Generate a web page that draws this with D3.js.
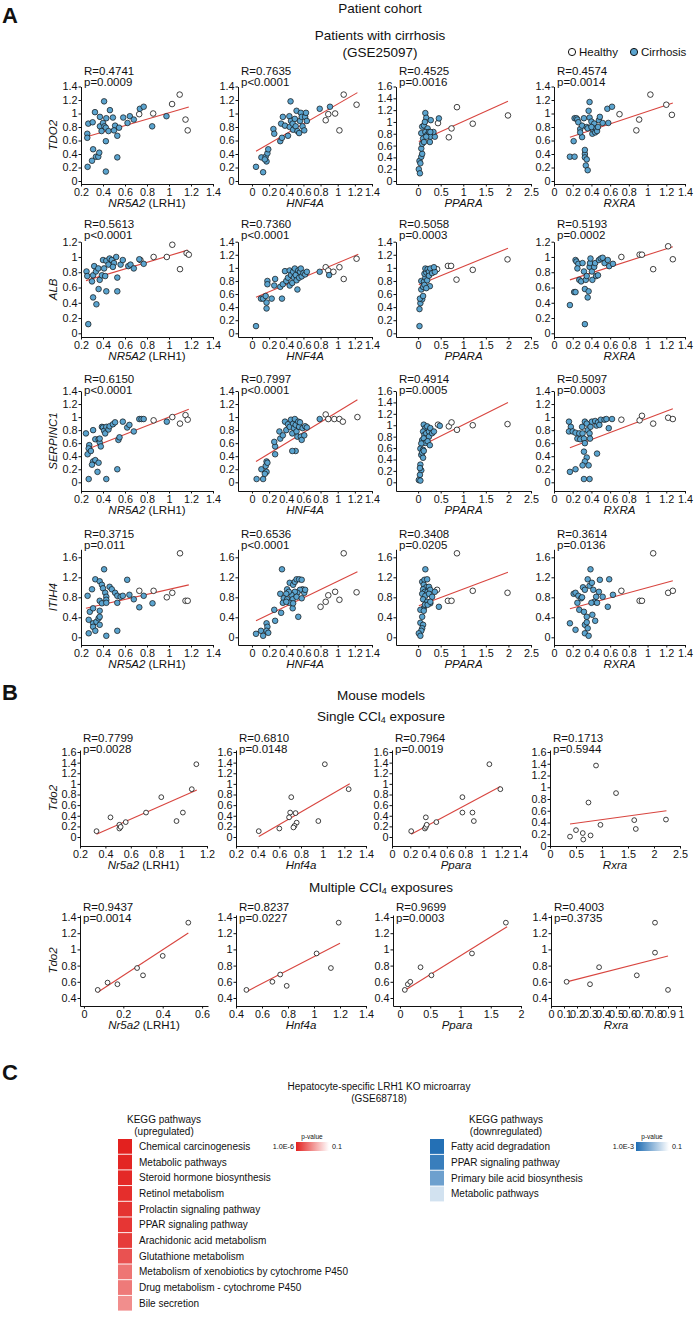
<!DOCTYPE html>
<html>
<head>
<meta charset="utf-8">
<script src="https://cdn.jsdelivr.net/npm/d3@7"></script>
<style>
  body { margin: 0; background: #fff; }
  svg text { font-family: 'Liberation Sans', Arial, sans-serif; fill: #111; }
</style>
</head>
<body>
<svg id="fig" width="696" height="1318"></svg>
<script>
// ---------------- panel A data (GSE25097) ----------------
const aXGenes = ["NR5A2", "HNF4A", "PPARA", "RXRA"];
const aYGenes = ["TDO2", "ALB", "SERPINC1", "ITIH4"];

const aStats = [
  [["R=0.4741", "p=0.0009"], ["R=0.7635", "p<0.0001"], ["R=0.4525", "p=0.0016"], ["R=0.4574", "p=0.0014"]],
  [["R=0.5613", "p<0.0001"], ["R=0.7360", "p<0.0001"], ["R=0.5058", "p=0.0003"], ["R=0.5193", "p=0.0002"]],
  [["R=0.6150", "p<0.0001"], ["R=0.7997", "p<0.0001"], ["R=0.4914", "p=0.0005"], ["R=0.5097", "p=0.0003"]],
  [["R=0.3715", "p=0.011"], ["R=0.6536", "p<0.0001"], ["R=0.3408", "p=0.0205"], ["R=0.3614", "p=0.0136"]]
];

const aYMax = [[1.4, 1.4, 1.6, 1.4], [1.2, 1.4, 1.4, 1.2], [1.4, 1.4, 1.6, 1.4], [1.6, 1.6, 1.6, 1.6]];

// x axis extents and ticks per column
const aXDomain = [[0.2, 1.4], [-0.163, 1.4], [-0.49, 2.5], [0, 1.4]];
const ticks02to14 = [0.2, 0.4, 0.6, 0.8, 1, 1.2, 1.4];
const ticks0to14 = [0, 0.2, 0.4, 0.6, 0.8, 1, 1.2, 1.4];
const ticks0to25 = [0, 0.5, 1, 1.5, 2, 2.5];
const aXTicks = [ticks02to14, ticks0to14, ticks0to25, ticks0to14];

// fits: slope, intercept, x from, x to
const aFits = [
  [[0.475, 0.536, 0.236, 1.18], [0.735, 0.405, 0.047, 1.23], [0.344, 0.665, 0.015, 1.99], [0.46, 0.57, 0.17, 1.27]],
  [[0.432, 0.584, 0.245, 1.17], [0.55, 0.525, 0.047, 1.24], [0.284, 0.736, 0.015, 1.99], [0.395, 0.633, 0.17, 1.27]],
  [[0.663, 0.338, 0.245, 1.18], [0.80, 0.282, 0.047, 1.23], [0.395, 0.614, 0.015, 1.99], [0.545, 0.437, 0.17, 1.27]],
  [[0.50, 0.458, 0.245, 1.18], [0.83, 0.291, 0.047, 1.23], [0.34, 0.625, 0.015, 1.99], [0.51, 0.483, 0.17, 1.27]]
];

// TDO2 row
const tdo2Cirr = [
  [[0.26,0.21],[0.257,0.70],[0.257,0.64],[0.266,0.85],[0.306,0.87],[0.327,1.02],[0.31,0.47],[0.30,0.30],[0.336,0.36],[0.357,0.36],[0.366,0.42],[0.372,0.95],[0.372,0.81],[0.387,0.74],[0.40,0.86],[0.41,1.18],[0.413,0.81],[0.426,0.79],[0.43,0.93],[0.426,0.59],[0.426,0.14],[0.45,0.74],[0.463,1.05],[0.49,0.94],[0.51,0.82],[0.50,0.75],[0.53,0.67],[0.53,0.35],[0.546,0.79],[0.584,0.94],[0.623,0.86],[0.644,0.96],[0.68,0.91],[0.735,1.07],[0.77,1.10],[0.847,0.81],[0.977,0.96]],
  [[0.047,0.21],[0.13,0.13],[0.11,0.35],[0.16,0.36],[0.17,0.29],[0.18,0.41],[0.19,0.47],[0.15,0.32],[0.25,0.77],[0.26,0.70],[0.33,0.59],[0.35,0.64],[0.34,0.85],[0.36,0.95],[0.385,0.82],[0.42,0.67],[0.44,0.80],[0.45,1.18],[0.436,0.96],[0.455,0.89],[0.475,0.85],[0.48,0.76],[0.50,0.92],[0.51,0.81],[0.52,1.04],[0.53,0.74],[0.55,0.71],[0.56,0.89],[0.57,1.01],[0.58,0.95],[0.59,0.81],[0.61,0.75],[0.62,0.95],[0.64,0.89],[0.63,1.01],[0.79,1.07],[0.91,1.10]],
  [[0.015,0.20],[0.04,0.13],[0.03,0.34],[0.05,0.30],[0.07,0.41],[0.09,0.46],[0.07,0.55],[0.09,0.63],[0.11,0.72],[0.07,0.81],[0.09,0.92],[0.13,0.94],[0.16,1.15],[0.18,1.07],[0.15,1.00],[0.21,0.89],[0.16,0.83],[0.20,0.78],[0.24,0.83],[0.27,0.75],[0.26,0.66],[0.28,1.03],[0.37,0.75],[0.34,0.83],[0.46,1.06],[0.13,0.66],[0.18,0.75],[0.27,0.83]],
  [[0.17,0.36],[0.22,0.36],[0.21,0.59],[0.22,0.93],[0.24,0.93],[0.25,0.91],[0.26,0.87],[0.28,0.77],[0.30,0.65],[0.30,0.82],[0.32,0.93],[0.33,0.40],[0.33,0.35],[0.33,0.46],[0.34,0.23],[0.35,0.32],[0.36,0.16],[0.35,0.80],[0.36,0.78],[0.37,1.04],[0.38,0.94],[0.38,1.17],[0.40,0.88],[0.41,0.70],[0.42,0.76],[0.43,0.85],[0.44,0.72],[0.45,0.78],[0.46,0.74],[0.47,0.80],[0.48,0.90],[0.49,0.95],[0.52,0.86],[0.57,1.07],[0.62,1.10],[0.58,0.86],[0.40,0.80],[0.28,0.72]]
];
const tdo2Healthy = [
  [[0.729,0.99],[0.856,1.00],[1.028,1.14],[1.097,1.28],[1.15,0.91],[1.17,0.75]],
  [[0.86,0.90],[0.89,0.99],[0.97,1.00],[1.02,0.75],[1.07,1.28],[1.22,1.13]],
  [[0.44,0.98],[0.68,0.74],[0.74,0.89],[0.86,1.25],[1.21,0.97],[1.99,1.11]],
  [[0.70,0.99],[0.88,0.75],[0.91,0.91],[1.03,1.28],[1.20,1.13],[1.26,0.98]]
];

// ALB row
const albCirr = [
  [[0.266,0.12],[0.25,0.81],[0.257,0.75],[0.30,0.68],[0.31,0.76],[0.31,0.47],[0.34,0.38],[0.32,0.88],[0.336,0.81],[0.36,0.58],[0.357,0.85],[0.37,0.70],[0.39,0.76],[0.40,0.96],[0.41,0.85],[0.43,0.55],[0.42,0.75],[0.43,0.95],[0.45,0.90],[0.46,0.98],[0.48,0.96],[0.50,0.92],[0.52,1.00],[0.53,0.73],[0.53,0.55],[0.56,0.90],[0.58,0.96],[0.63,0.88],[0.65,0.90],[0.68,0.85],[0.73,0.97],[0.77,0.91],[0.49,0.87]],
  [[0.047,0.11],[0.105,0.53],[0.13,0.53],[0.16,0.57],[0.17,0.47],[0.17,0.38],[0.18,0.80],[0.18,0.75],[0.23,0.53],[0.26,0.73],[0.27,0.83],[0.33,0.71],[0.35,0.53],[0.36,0.75],[0.385,0.95],[0.40,0.80],[0.42,0.85],[0.44,0.73],[0.44,0.96],[0.455,0.89],[0.47,0.77],[0.48,0.94],[0.49,0.85],[0.50,0.99],[0.51,0.89],[0.52,0.81],[0.53,0.67],[0.54,0.96],[0.55,0.85],[0.56,0.94],[0.57,0.99],[0.58,0.87],[0.60,0.92],[0.62,0.90],[0.64,0.94],[0.79,0.94],[0.90,0.89]],
  [[0.03,0.11],[0.03,0.37],[0.05,0.46],[0.09,0.52],[0.04,0.53],[0.11,0.57],[0.07,0.67],[0.11,0.71],[0.07,0.80],[0.13,0.79],[0.14,0.74],[0.16,0.85],[0.14,0.91],[0.18,0.93],[0.16,0.99],[0.21,0.98],[0.24,0.94],[0.26,0.72],[0.27,0.99],[0.20,0.81],[0.24,0.88],[0.31,0.92],[0.37,0.94],[0.35,1.01],[0.18,0.69]],
  [[0.17,0.37],[0.215,0.54],[0.23,0.54],[0.23,0.96],[0.24,0.94],[0.26,0.91],[0.25,0.85],[0.27,0.70],[0.29,0.68],[0.305,0.92],[0.32,0.81],[0.33,0.58],[0.34,0.70],[0.35,0.75],[0.36,0.47],[0.37,0.55],[0.33,0.12],[0.38,0.87],[0.385,0.92],[0.39,0.98],[0.405,0.81],[0.41,0.70],[0.43,0.87],[0.44,0.92],[0.45,0.75],[0.47,0.76],[0.48,0.96],[0.50,0.98],[0.52,0.99],[0.54,0.92],[0.575,0.96],[0.59,0.88],[0.63,0.91]]
];
const albHealthy = [
  [[0.74,0.96],[0.86,1.00],[0.98,1.00],[1.03,1.16],[1.10,0.84],[1.16,1.05],[1.18,1.03]],
  [[0.86,1.01],[0.89,0.96],[0.95,0.94],[1.02,1.01],[1.07,0.83],[1.22,1.14]],
  [[0.42,0.98],[0.66,1.03],[0.73,1.03],[0.85,0.82],[1.21,0.97],[1.98,1.13]],
  [[0.72,1.00],[0.915,1.03],[0.94,1.03],[1.06,0.84],[1.22,1.14],[1.27,0.97]]
];

// SERPINC1 row
const serpCirr = [
  [[0.245,0.75],[0.275,0.57],[0.27,0.52],[0.31,0.80],[0.33,0.66],[0.36,0.66],[0.37,0.61],[0.38,0.55],[0.37,0.67],[0.39,0.85],[0.40,0.84],[0.41,0.79],[0.42,0.75],[0.43,0.85],[0.45,0.81],[0.46,0.86],[0.49,0.89],[0.51,0.92],[0.54,0.65],[0.55,0.69],[0.58,0.93],[0.62,0.84],[0.64,0.88],[0.68,0.78],[0.73,0.97],[0.75,0.97],[0.77,0.97],[0.98,0.93],[0.26,0.43],[0.29,0.48],[0.31,0.32],[0.33,0.34],[0.30,0.27],[0.36,0.30],[0.35,0.16],[0.27,0.05],[0.43,0.05],[0.53,0.20]],
  [[0.27,0.55],[0.32,0.78],[0.33,0.67],[0.36,0.72],[0.385,0.93],[0.40,0.80],[0.42,0.89],[0.44,0.85],[0.455,0.96],[0.47,0.75],[0.48,0.90],[0.49,0.83],[0.50,0.97],[0.51,0.88],[0.52,0.78],[0.53,0.70],[0.54,0.93],[0.55,0.85],[0.56,0.92],[0.57,0.70],[0.58,0.65],[0.59,0.83],[0.61,0.72],[0.62,0.86],[0.64,0.84],[0.51,0.48],[0.79,0.97],[0.26,0.62],[0.054,0.05],[0.11,0.20],[0.13,0.05],[0.16,0.25],[0.17,0.32],[0.18,0.30],[0.17,0.16],[0.15,0.13],[0.27,0.43],[0.47,0.48]],
  [[0.125,1.01],[0.16,0.95],[0.20,0.98],[0.11,0.89],[0.14,0.83],[0.18,0.86],[0.24,0.89],[0.27,0.95],[0.24,0.80],[0.31,0.86],[0.35,0.89],[0.48,0.99],[0.09,0.74],[0.125,0.77],[0.16,0.69],[0.21,0.72],[0.26,0.65],[0.07,0.68],[0.05,0.59],[0.11,0.57],[0.07,0.48],[0.09,0.52],[0.11,0.43],[0.05,0.31],[0.07,0.21],[0.04,0.13],[0.015,0.04],[0.05,0.03],[0.125,0.55],[0.04,0.25]],
  [[0.16,0.93],[0.18,0.85],[0.16,0.78],[0.20,0.78],[0.23,0.76],[0.25,0.67],[0.27,0.75],[0.28,0.66],[0.30,0.85],[0.305,0.75],[0.32,0.67],[0.33,0.93],[0.35,0.90],[0.36,0.80],[0.38,0.75],[0.385,0.67],[0.39,0.85],[0.405,0.93],[0.44,0.94],[0.455,0.87],[0.47,0.92],[0.485,0.88],[0.50,0.96],[0.54,0.96],[0.56,0.97],[0.585,0.83],[0.62,0.97],[0.32,0.47],[0.35,0.38],[0.33,0.32],[0.37,0.26],[0.305,0.26],[0.17,0.16],[0.23,0.20],[0.32,0.05],[0.38,0.05],[0.46,0.44],[0.33,0.60]]
];
const serpHealthy = [
  [[0.86,0.95],[1.03,1.00],[1.10,0.90],[1.15,1.03],[1.17,0.96]],
  [[0.86,1.04],[0.89,0.97],[0.96,0.97],[1.02,0.97],[1.06,0.93],[1.23,1.00]],
  [[0.44,1.01],[0.68,0.98],[0.74,1.05],[0.86,0.92],[1.21,1.00],[1.98,1.02]],
  [[0.72,0.96],[0.915,0.95],[0.94,1.02],[1.06,0.90],[1.22,0.99],[1.27,0.97]]
];

// ITIH4 row
const itihCirr = [
  [[0.26,0.83],[0.30,0.96],[0.33,1.16],[0.37,1.12],[0.41,1.36],[0.39,1.05],[0.40,0.98],[0.42,0.89],[0.43,0.81],[0.43,0.75],[0.46,1.01],[0.48,0.96],[0.51,0.89],[0.53,0.83],[0.56,0.81],[0.58,0.83],[0.62,1.15],[0.64,0.85],[0.68,0.76],[0.77,0.83],[0.37,0.73],[0.39,0.68],[0.27,0.35],[0.28,0.51],[0.31,0.58],[0.31,0.28],[0.34,0.31],[0.36,0.38],[0.31,0.21],[0.33,0.13],[0.27,0.08],[0.37,0.25],[0.37,0.53],[0.37,0.41],[0.43,0.03],[0.53,0.13],[0.43,0.69],[0.53,0.69],[0.73,0.60],[0.85,0.68]],
  [[0.35,1.36],[0.41,0.96],[0.44,1.09],[0.48,1.05],[0.50,1.11],[0.52,1.16],[0.55,1.16],[0.58,1.15],[0.59,0.96],[0.61,0.89],[0.56,0.95],[0.53,0.89],[0.50,0.91],[0.46,0.85],[0.43,0.91],[0.40,0.87],[0.33,0.87],[0.37,0.78],[0.41,0.76],[0.475,0.76],[0.52,0.81],[0.58,0.78],[0.36,0.69],[0.44,0.69],[0.62,0.95],[0.047,0.07],[0.105,0.13],[0.13,0.03],[0.17,0.28],[0.18,0.21],[0.17,0.13],[0.19,0.09],[0.26,0.55],[0.27,0.33],[0.34,0.49],[0.475,0.58],[0.54,0.41],[0.48,0.68],[0.40,0.71]],
  [[0.16,1.36],[0.09,1.11],[0.14,1.15],[0.20,1.16],[0.125,1.05],[0.18,1.00],[0.24,1.01],[0.11,0.96],[0.15,0.91],[0.21,0.91],[0.27,0.95],[0.09,0.87],[0.16,0.83],[0.24,0.87],[0.31,0.81],[0.11,0.76],[0.20,0.71],[0.27,0.68],[0.46,0.61],[0.125,0.58],[0.37,0.91],[0.05,0.55],[0.125,0.53],[0.09,0.41],[0.05,0.29],[0.11,0.25],[0.09,0.18],[0.07,0.13],[0.015,0.08],[0.05,0.03],[0.15,0.65],[0.21,0.65],[0.27,0.71]],
  [[0.21,0.87],[0.23,0.89],[0.26,0.83],[0.29,0.78],[0.31,1.00],[0.33,0.95],[0.36,1.16],[0.38,1.03],[0.39,1.36],[0.405,1.09],[0.42,0.95],[0.45,0.81],[0.48,0.91],[0.49,1.15],[0.52,0.81],[0.43,0.71],[0.40,0.69],[0.46,0.69],[0.575,0.61],[0.59,1.16],[0.63,0.85],[0.25,0.69],[0.17,0.28],[0.23,0.15],[0.27,0.55],[0.32,0.51],[0.35,0.41],[0.33,0.25],[0.35,0.30],[0.36,0.18],[0.33,0.08],[0.37,0.03],[0.44,0.33],[0.30,0.80],[0.41,0.45]]
];
const itihHealthy = [
  [[0.73,0.93],[0.86,0.93],[0.98,0.80],[1.03,0.89],[1.10,1.68],[1.15,0.73],[1.17,0.73]],
  [[0.80,0.61],[0.86,0.71],[0.89,0.84],[0.97,0.91],[1.02,0.75],[1.07,1.68],[1.22,0.90]],
  [[0.42,0.95],[0.66,0.73],[0.74,0.73],[0.86,1.68],[1.21,0.93],[1.98,0.89]],
  [[0.72,0.93],[0.915,0.73],[0.94,0.73],[1.06,1.68],[1.22,0.89],[1.27,0.93]]
];

const aCirr = [tdo2Cirr, albCirr, serpCirr, itihCirr];
const aHealthy = [tdo2Healthy, albHealthy, serpHealthy, itihHealthy];

// ---------------- panel B data (mouse CCl4) ----------------
const bXGenes = ["Nr5a2", "Hnf4a", "Ppara", "Rxra"];
const bStats = [
  [["R=0.7799", "p=0.0028"], ["R=0.6810", "p=0.0148"], ["R=0.7964", "p=0.0019"], ["R=0.1713", "p=0.5944"]],
  [["R=0.9437", "p=0.0014"], ["R=0.8237", "p=0.0227"], ["R=0.9699", "p=0.0003"], ["R=0.4003", "p=0.3735"]]
];
const bXDomain = [
  [[0.2, 1.2], [0.2, 1.4], [0, 1.4], [0, 2.5]],
  [[-0.02, 0.63], [0.4, 1.4], [-0.115, 2.0], [0, 1]]
];
const bXTicks = [
  [[0.2, 0.4, 0.6, 0.8, 1, 1.2], ticks02to14, ticks0to14, ticks0to25],
  [[0, 0.2, 0.4, 0.6], [0.4, 0.6, 0.8, 1, 1.2, 1.4], [0, 0.5, 1, 1.5, 2], [0, 0.1, 0.2, 0.3, 0.4, 0.5, 0.6, 0.7, 0.8, 0.9, 1]]
];
const bYTicks = [[0, 0.2, 0.4, 0.6, 0.8, 1, 1.2, 1.4, 1.6], [0.4, 0.6, 0.8, 1, 1.2, 1.4]];
const bFits = [
  [[1.057, -0.299, 0.33, 1.12], [1.18, -0.474, 0.41, 1.25], [0.923, -0.144, 0.21, 1.185], [0.121, 0.328, 0.385, 2.24]],
  [[1.59, 0.36, 0.07, 0.53], [0.83, 0.08, 0.48, 1.2], [0.465, 0.457, 0.05, 1.77], [0.41, 0.55, 0.12, 0.9]]
];
const singlePts = [
  [[1.116,1.37],[1.08,0.90],[0.84,0.75],[0.33,0.11],[0.44,0.37],[0.51,0.23],[0.51,0.16],[0.52,0.19],[0.56,0.28],[0.72,0.46],[0.96,0.30],[1.01,0.46]],
  [[1.02,1.37],[0.71,0.75],[1.24,0.90],[0.41,0.11],[0.60,0.16],[0.70,0.46],[0.69,0.37],[0.75,0.45],[0.76,0.27],[0.74,0.21],[0.73,0.18],[0.96,0.30]],
  [[1.065,1.37],[1.185,0.90],[0.77,0.75],[0.21,0.11],[0.37,0.37],[0.36,0.16],[0.37,0.19],[0.38,0.23],[0.485,0.28],[0.77,0.46],[0.88,0.46],[0.895,0.30]],
  [[0.885,1.37],[1.27,0.90],[0.74,0.74],[0.385,0.16],[0.50,0.27],[0.63,0.22],[0.64,0.11],[0.78,0.18],[0.97,0.36],[1.62,0.44],[1.65,0.29],[2.23,0.45]]
];
const multiPts = [
  [[0.07,0.50],[0.12,0.59],[0.17,0.57],[0.27,0.77],[0.30,0.68],[0.40,0.92],[0.53,1.33]],
  [[0.48,0.50],[0.68,0.60],[0.74,0.69],[0.79,0.55],[1.02,0.95],[1.13,0.77],[1.19,1.33]],
  [[0.08,0.50],[0.13,0.57],[0.17,0.60],[0.34,0.78],[0.52,0.68],[1.19,0.95],[1.75,1.33]],
  [[0.12,0.60],[0.30,0.57],[0.37,0.78],[0.66,0.68],[0.80,1.33],[0.80,0.96],[0.90,0.50]]
];
const bPts = [singlePts, multiPts];

// ---------------- panel C data (GSE68718 KEGG) ----------------
const upPathways = ["Chemical carcinogenesis", "Metabolic pathways", "Steroid hormone biosynthesis", "Retinol metabolism",
  "Prolactin signaling pathway", "PPAR signaling pathway", "Arachidonic acid metabolism", "Glutathione metabolism",
  "Metabolism of xenobiotics by cytochrome P450", "Drug metabolism - cytochrome P450", "Bile secretion"];
const upP = [1.0e-6, 1.2e-6, 1.5e-6, 2e-6, 2.5e-6, 3e-6, 4e-6, 1.3e-5, 8e-5, 1e-4, 2.8e-4];
const downPathways = ["Fatty acid degradation", "PPAR signaling pathway", "Primary bile acid biosynthesis", "Metabolic pathways"];
const downP = [1.1e-3, 1.7e-3, 5e-3, 4e-2];

// ---------------- drawing ----------------
const svg = d3.select("#fig");
const fmt = d3.format("~g");
const RED = "#d8453f";
const BLUE = "#5ba4cf";

function centerText(x, y, txt, size, opts = {}) {
  const t = svg.append("text").attr("x", x).attr("y", y).attr("dy", "0.35em")
    .attr("text-anchor", opts.anchor || "middle").attr("font-size", size).text(txt);
  if (opts.weight) t.attr("font-weight", opts.weight);
  if (opts.italic) t.attr("font-style", "italic");
  return t;
}

function scatter(c) {
  const g = svg.append("g");
  const x = d3.scaleLinear().domain(c.xDomain).range([c.left, c.left + c.w]);
  const yBase = d3.scaleLinear().domain(c.yDomain).range(c.yRange);
  const axisTop = c.yRange[1] - (c.topExt || 0);
  const y = d3.scaleLinear()
    .domain([yBase.invert(c.axisY), yBase.invert(axisTop)])
    .range([c.axisY, axisTop]);

  const xa = g.append("g").attr("transform", `translate(0,${c.axisY})`)
    .call(d3.axisBottom(x).tickValues(c.xTicks).tickFormat(fmt).tickSize(2.5).tickSizeOuter(0).tickPadding(1.5));
  const ya = g.append("g").attr("transform", `translate(${c.left},0)`)
    .call(d3.axisLeft(y).tickValues(c.yTicks).tickFormat(fmt).tickSize(2.5).tickSizeOuter(0).tickPadding(1));
  [xa, ya].forEach(a => {
    a.attr("font-family", null).attr("font-size", 10.8);
    a.selectAll("path,line").attr("stroke", "#111").attr("stroke-width", 1);
  });

  const [m, b, x0, x1] = c.fit;
  g.append("line")
    .attr("x1", x(x0)).attr("y1", y(m * x0 + b))
    .attr("x2", x(x1)).attr("y2", y(m * x1 + b))
    .attr("stroke", RED).attr("stroke-width", 1.1);

  g.selectAll("circle.h").data(c.healthy).join("circle").attr("class", "h")
    .attr("cx", d => x(d[0])).attr("cy", d => y(d[1])).attr("r", c.r)
    .attr("fill", "#fff").attr("stroke", "#111").attr("stroke-width", 0.8);
  g.selectAll("circle.c").data(c.cirr || []).join("circle").attr("class", "c")
    .attr("cx", d => x(d[0])).attr("cy", d => y(d[1])).attr("r", c.r)
    .attr("fill", BLUE).attr("stroke", "#111").attr("stroke-width", 0.7);

  g.append("text").attr("x", c.left + 3).attr("y", c.statY).attr("dy", "0.35em")
    .attr("font-size", 11.5).text(c.stats[0]);
  g.append("text").attr("x", c.left + 3).attr("y", c.statY + 11).attr("dy", "0.35em")
    .attr("font-size", 11.5).text(c.stats[1]);

  const xt = g.append("text").attr("x", c.left + c.w / 2).attr("y", c.axisY + 19).attr("dy", "0.35em")
    .attr("text-anchor", "middle").attr("font-size", 11.5);
  xt.append("tspan").attr("font-style", "italic").text(c.xLabel);
  if (c.xSuffix) xt.append("tspan").text(c.xSuffix);

  if (c.yLabel) {
    const cy = (c.axisY + axisTop) / 2;
    g.append("text").attr("transform", `translate(53,${cy}) rotate(-90)`).attr("dy", "0.35em")
      .attr("text-anchor", "middle").attr("font-size", 11.5).attr("font-style", "italic").text(c.yLabel);
  }
}

// panel letters and titles
centerText(2, 15, "A", 22, { anchor: "start", weight: "bold" });
centerText(380, 8, "Patient cohort", 13.5);
centerText(380, 35, "Patients with cirrhosis", 13.5);
centerText(380, 52, "(GSE25097)", 13.5);

// legend
svg.append("circle").attr("cx", 572).attr("cy", 52).attr("r", 3.6).attr("fill", "#fff").attr("stroke", "#111");
centerText(579, 52, "Healthy", 11.5, { anchor: "start" });
svg.append("circle").attr("cx", 634).attr("cy", 52).attr("r", 3.6).attr("fill", BLUE).attr("stroke", "#111");
centerText(641, 52, "Cirrhosis", 11.5, { anchor: "start" });

// panel A grid
const aLeft = [81, 238, 396, 554];
const aW = [132, 134, 135, 131];
const aZeroY = [181, 333.3, 482.3, 637.3];
const aTopY = [86.5, 241.7, 391, 557.3];
const aAxisY = [184, 337, 491, 645];
const aStatY = [71, 224, 379, 534];
const aTopExt = [0, 0, 0, 8];

aYGenes.forEach((yg, r) => {
  aXGenes.forEach((xg, k) => {
    const yMax = aYMax[r][k];
    const step = r === 3 ? 0.4 : 0.2;
    const yTicks = d3.range(0, Math.round(yMax / step) + 1).map(i => +(i * step).toFixed(1));
    scatter({
      left: aLeft[k], w: aW[k], xDomain: aXDomain[k], xTicks: aXTicks[k],
      yDomain: [0, yMax], yRange: [aZeroY[r], aTopY[r]], axisY: aAxisY[r], topExt: aTopExt[r],
      yTicks, fit: aFits[r][k], cirr: aCirr[r][k], healthy: aHealthy[r][k], r: 2.8,
      stats: aStats[r][k], statY: aStatY[r],
      xLabel: xg, xSuffix: k === 0 ? " (LRH1)" : null, yLabel: k === 0 ? yg : null
    });
  });
});

// panel B
centerText(2, 692, "B", 22, { anchor: "start", weight: "bold" });
centerText(381, 695, "Mouse models", 13.5);
function cclTitle(y, pre, post) {
  const t = svg.append("text").attr("x", 381).attr("y", y).attr("dy", "0.35em")
    .attr("text-anchor", "middle").attr("font-size", 13.5);
  t.append("tspan").text(pre);
  t.append("tspan").attr("font-size", 9).attr("dy", 2).text("4");
  t.append("tspan").attr("dy", -2).text(post);
}
cclTitle(716, "Single CCl", " exposure");
cclTitle(887, "Multiple CCl", " exposures");

const bLeft = [[80, 236, 392, 550], [80, 236, 393, 551]];
const bW = [[127, 130, 128, 130], [128, 130, 128, 130]];
const bRows = [
  { yDomain: [0, 1.6], yRange: [837, 752], axisY: 846, statY: 738 },
  { yDomain: [0.4, 1.4], yRange: [998, 917], axisY: 1006, statY: 907 }
];

bRows.forEach((row, r) => {
  bXGenes.forEach((xg, k) => {
    const yRange = (r === 0 && k === 3) ? [846, 752] : row.yRange;
    scatter({
      left: bLeft[r][k], w: bW[r][k], xDomain: bXDomain[r][k], xTicks: bXTicks[r][k],
      yDomain: row.yDomain, yRange, axisY: row.axisY, topExt: 2,
      yTicks: bYTicks[r], fit: bFits[r][k], healthy: bPts[r][k], cirr: [], r: 2.4,
      stats: bStats[r][k], statY: row.statY,
      xLabel: xg, xSuffix: k === 0 ? " (LRH1)" : null, yLabel: k === 0 ? "Tdo2" : null
    });
  });
});

// panel C
centerText(2, 1072, "C", 22, { anchor: "start", weight: "bold" });
centerText(379, 1086, "Hepatocyte-specific LRH1 KO microarray", 10);
centerText(379, 1098, "(GSE68718)", 10);

function keggBlock(cfg) {
  const band = d3.scaleBand().domain(cfg.names)
    .range([cfg.top, cfg.top + cfg.names.length * cfg.pitch]).paddingInner(0.06);
  const col = d3.scaleLog().domain(cfg.pRange).range([cfg.color, "#ffffff"]).interpolate(d3.interpolateRgb).clamp(true);
  centerText(cfg.headX, cfg.top - 20, "KEGG pathways", 10);
  centerText(cfg.headX, cfg.top - 8, cfg.sub, 10);
  svg.selectAll(null).data(cfg.names).join("rect")
    .attr("x", cfg.boxX).attr("y", d => band(d)).attr("width", 14).attr("height", band.bandwidth())
    .attr("fill", (d, i) => col(cfg.p[i]));
  svg.selectAll(null).data(cfg.names).join("text")
    .attr("x", cfg.boxX + 21).attr("y", d => band(d) + band.bandwidth() / 2).attr("dy", "0.35em")
    .attr("font-size", 10).text(d => d);

  // gradient legend
  const gid = "grad" + cfg.sub.replace(/\W/g, "");
  const grad = svg.append("defs").append("linearGradient").attr("id", gid);
  grad.append("stop").attr("offset", "0%").attr("stop-color", cfg.color);
  grad.append("stop").attr("offset", "100%").attr("stop-color", "#fff");
  svg.append("rect").attr("x", cfg.legX).attr("y", cfg.top + 3).attr("width", 33).attr("height", 9)
    .attr("fill", `url(#${gid})`);
  centerText(cfg.legX + 16, cfg.top - 2, "p-value", 6.5);
  centerText(cfg.legX - 2, cfg.top + 7.5, cfg.pLabel, 7.2, { anchor: "end" });
  centerText(cfg.legX + 36, cfg.top + 7.5, "0.1", 7.2, { anchor: "start" });
}

keggBlock({ names: upPathways, p: upP, pRange: [1e-6, 0.1], color: "#e3211f", top: 1139, pitch: 15.6,
  boxX: 118, headX: 164, sub: "(upregulated)", legX: 296, pLabel: "1.0E-6" });
keggBlock({ names: downPathways, p: downP, pRange: [1e-3, 0.1], color: "#1f6db3", top: 1139, pitch: 15.6,
  boxX: 430, headX: 506, sub: "(downregulated)", legX: 636, pLabel: "1.0E-3" });
</script>
</body>
</html>
